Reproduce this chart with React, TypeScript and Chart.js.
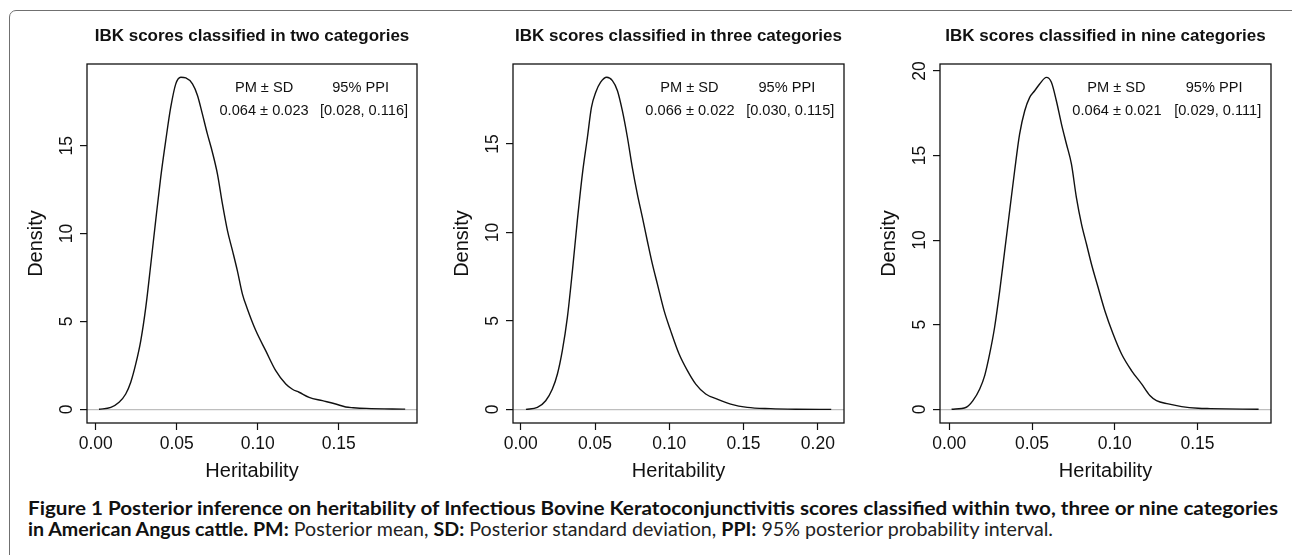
import React, { useEffect, useLayoutEffect, useRef } from "react";
import { Chart, registerables } from "chart.js";

Chart.register(...registerables);
Chart.defaults.font.family = '"Liberation Sans", Arial, Helvetica, sans-serif';
Chart.defaults.color = "#111";

// ---------- data ----------
const titles = [
  "IBK scores classified in two categories",
  "IBK scores classified in three categories",
  "IBK scores classified in nine categories",
];

// Panel 1: two categories
const herit2 = [0.002, 0.0093, 0.0144, 0.0185, 0.0216, 0.0247, 0.0278, 0.0309, 0.034, 0.037, 0.0401, 0.0432, 0.0463, 0.0494, 0.0525, 0.0556, 0.0597, 0.0628, 0.0658, 0.0689, 0.072, 0.0751, 0.0782, 0.0813, 0.0844, 0.0874, 0.0905, 0.0936, 0.0988, 0.1049, 0.1111, 0.1173, 0.1214, 0.1255, 0.1317, 0.1399, 0.1481, 0.1543, 0.159, 0.167, 0.191];
const dens2 = [0, 0.11, 0.4, 0.87, 1.54, 2.58, 3.91, 5.81, 8.27, 10.74, 13.2, 15.29, 17.19, 18.52, 18.9, 18.86, 18.52, 17.86, 16.81, 15.67, 14.63, 13.4, 11.69, 10.17, 9.03, 7.89, 6.57, 5.71, 4.48, 3.34, 2.2, 1.44, 1.14, 0.97, 0.68, 0.49, 0.3, 0.13, 0.09, 0.05, 0.01];

// Panel 2: three categories
const herit3 = [0.0035, 0.0112, 0.0168, 0.0213, 0.0247, 0.028, 0.0314, 0.0348, 0.0381, 0.0415, 0.0449, 0.0476, 0.0505, 0.0538, 0.0579, 0.0617, 0.0651, 0.0684, 0.0718, 0.0751, 0.0785, 0.0819, 0.0852, 0.0886, 0.092, 0.0965, 0.1009, 0.1066, 0.1122, 0.1178, 0.1245, 0.1323, 0.1413, 0.1525, 0.1682, 0.1854, 0.209];
const dens3 = [0, 0.11, 0.49, 1.15, 2.0, 3.32, 5.2, 7.84, 10.67, 13.3, 15.38, 17.07, 17.92, 18.49, 18.77, 18.58, 18.01, 16.88, 15.38, 13.68, 12.17, 10.85, 9.53, 8.22, 7.08, 5.58, 4.45, 3.13, 2.19, 1.43, 0.87, 0.58, 0.3, 0.11, 0.04, 0.01, 0];

// Panel 3: nine categories
const herit9 = [0.0014, 0.0103, 0.0143, 0.0184, 0.0214, 0.0244, 0.0274, 0.0305, 0.0335, 0.0365, 0.0395, 0.0425, 0.0456, 0.0486, 0.0516, 0.0546, 0.0587, 0.0617, 0.0647, 0.0678, 0.0708, 0.0738, 0.0768, 0.0799, 0.0829, 0.0859, 0.0899, 0.094, 0.099, 0.1041, 0.1101, 0.1162, 0.1212, 0.1252, 0.1323, 0.1404, 0.1504, 0.1577, 0.1869];
const dens9 = [0, 0.12, 0.51, 1.2, 1.99, 3.27, 4.85, 7.01, 9.38, 11.74, 14.1, 16.27, 17.65, 18.44, 18.83, 19.23, 19.62, 19.33, 18.24, 16.86, 15.68, 14.5, 12.53, 10.95, 9.77, 8.59, 7.21, 5.83, 4.45, 3.27, 2.29, 1.5, 0.81, 0.51, 0.32, 0.16, 0.06, 0.04, 0];

// tick labels
const xTicks2 = [0, 0.05, 0.1, 0.15];
const xTicks3 = [0, 0.05, 0.1, 0.15, 0.2];
const xTicks9 = [0, 0.05, 0.1, 0.15];
const yTicks2 = [0, 5, 10, 15];
const yTicks3 = [0, 5, 10, 15];
const yTicks9 = [0, 5, 10, 15, 20];

// summary statistics text
const pmHeader = "PM ± SD";
const ppiHeader = "95% PPI";
const pmValues = ["0.064 ± 0.023", "0.066 ± 0.022", "0.064 ± 0.021"];
const ppiValues = ["[0.028, 0.116]", "[0.030, 0.115]", "[0.029, 0.111]"];

const xLabel = "Heritability";
const yLabel = "Density";

// ---------- layout (positions, not data) ----------
const panels = [
  { x: herit2, y: dens2, xt: xTicks2, yt: yTicks2, xr: [-0.0054, 0.1983], yr: [-0.78, 19.65], plotLeft: 87, plotRight: 417,
    ann: [[0.1039, 18.29], [0.1039, 16.99], [0.1635, 18.29], [0.1656, 16.99]] },
  { x: herit3, y: dens3, xt: xTicks3, yt: yTicks3, xr: [-0.0052, 0.2176], yr: [-0.77, 19.52], plotLeft: 513, plotRight: 844,
    ann: [[0.1135, 18.16], [0.1139, 16.86], [0.1791, 18.16], [0.1814, 16.86]] },
  { x: herit9, y: dens9, xt: xTicks9, yt: yTicks9, xr: [-0.0056, 0.1944], yr: [-0.81, 20.41], plotLeft: 940, plotRight: 1271,
    ann: [[0.101, 18.99], [0.1013, 17.63], [0.16, 18.99], [0.1622, 17.63]] },
];

const Y_AXIS_W = 75;
const RIGHT_PAD = 10;
const CANVAS_H = 490;

const boxAndTextPlugin = {
  id: "boxText",
  afterDatasetsDraw(chart: any, _args: any, opts: any) {
    const { ctx, chartArea, scales } = chart;
    ctx.save();
    ctx.strokeStyle = "#111";
    ctx.lineWidth = 1.3;
    ctx.strokeRect(chartArea.left, chartArea.top, chartArea.right - chartArea.left, chartArea.bottom - chartArea.top);
    ctx.font = '14.6px "Liberation Sans", Arial, sans-serif';
    ctx.fillStyle = "#111";
    ctx.textAlign = "center";
    ctx.textBaseline = "middle";
    for (const it of opts.items || []) {
      ctx.fillText(it.text, scales.x.getPixelForValue(it.x), scales.y.getPixelForValue(it.y));
    }
    ctx.restore();
  },
};

function Panel({ idx }: { idx: number }) {
  const ref = useRef<HTMLCanvasElement>(null);
  const p = panels[idx];
  const canvasLeft = p.plotLeft - Y_AXIS_W;
  const canvasW = p.plotRight - p.plotLeft + Y_AXIS_W + RIGHT_PAD;

  useEffect(() => {
    const texts = [pmHeader, pmValues[idx], ppiHeader, ppiValues[idx]];
    const items = p.ann.map((a, i) => ({ x: a[0], y: a[1], text: texts[i] }));
    const chart = new Chart(ref.current as HTMLCanvasElement, {
      type: "line",
      data: {
        datasets: [
          {
            data: p.x.map((v, i) => ({ x: v, y: p.y[i] })),
            borderColor: "#111",
            borderWidth: 1.4,
            pointRadius: 0,
            fill: false,
            cubicInterpolationMode: "monotone",
          },
        ],
      },
      plugins: [boxAndTextPlugin],
      options: {
        animation: false,
        responsive: false,
        devicePixelRatio: 1,
        layout: { padding: { left: 0, right: RIGHT_PAD, top: 0, bottom: 0 } },
        plugins: {
          legend: { display: false },
          tooltip: { enabled: false },
          title: {
            display: true,
            text: titles[idx],
            fullSize: false,
            color: "#111",
            font: { size: 17, weight: "bold" },
            padding: { top: 26, bottom: 17.6 },
          },
          boxText: { items },
        } as any,
        scales: {
          x: {
            type: "linear",
            min: p.xr[0],
            max: p.xr[1],
            afterBuildTicks: (s: any) => {
              s.ticks = p.xt.map((v) => ({ value: v }));
            },
            afterFit: (s: any) => {
              s.height = CANVAS_H - 423;
              s.paddingLeft = 0;
              s.paddingRight = 0;
            },
            border: { display: false },
            grid: { drawOnChartArea: false, drawTicks: true, tickLength: 7, tickColor: "#111", tickWidth: 1.2 },
            ticks: {
              autoSkip: false,
              maxRotation: 0,
              minRotation: 0,
              padding: 3.5,
              color: "#111",
              font: { size: 17.5 },
              callback: (v: any) => Number(v).toFixed(2),
            },
            title: { display: true, text: xLabel, color: "#111", font: { size: 20 }, padding: { top: 0, bottom: 7 } },
          },
          y: {
            type: "linear",
            min: p.yr[0],
            max: p.yr[1],
            afterBuildTicks: (s: any) => {
              s.ticks = p.yt.map((v) => ({ value: v }));
            },
            afterFit: (s: any) => {
              s.width = Y_AXIS_W;
              s.paddingTop = 0;
              s.paddingBottom = 0;
            },
            border: { display: false },
            grid: {
              drawOnChartArea: true,
              drawTicks: true,
              tickLength: 7,
              tickColor: "#111",
              tickWidth: 1.2,
              lineWidth: 1.2,
              color: (c: any) => (c.tick && c.tick.value === 0 ? "#bebebe" : "rgba(0,0,0,0)"),
            },
            ticks: {
              autoSkip: false,
              minRotation: 90,
              maxRotation: 90,
              crossAlign: "center",
              padding: 3,
              color: "#111",
              font: { size: 17.5 },
              callback: (v: any) => String(v),
            },
            title: { display: true, text: yLabel, color: "#111", font: { size: 20 }, padding: { top: 12, bottom: 0 } },
          },
        },
      } as any,
    });
    return () => chart.destroy();
  }, [idx]);

  return (
    <canvas
      ref={ref}
      width={canvasW}
      height={CANVAS_H}
      style={{ position: "absolute", left: canvasLeft, top: 0, width: canvasW, height: CANVAS_H }}
    />
  );
}

const captionLine1 =
  "Figure 1 Posterior inference on heritability of Infectious Bovine Keratoconjunctivitis scores classified within two, three or nine categories";

export default function App() {
  const l1 = useRef<HTMLDivElement>(null);
  const l2 = useRef<HTMLDivElement>(null);

  useLayoutEffect(() => {
    const fit = () => {
      if (!l1.current || !l2.current) return;
      l1.current.style.transform = "none";
      l2.current.style.transform = "none";
      const w1 = l1.current.getBoundingClientRect().width;
      const w2 = l2.current.getBoundingClientRect().width;
      l1.current.style.transform = `scaleX(${1250 / w1})`;
      l2.current.style.transform = `scaleX(${1025 / w2})`;
    };
    fit();
    (document as any).fonts?.ready?.then(fit);
  }, []);

  const bold: React.CSSProperties = { fontWeight: 700, color: "#111" };
  const light: React.CSSProperties = { fontWeight: 400, color: "#222" };

  return (
    <div style={{ position: "fixed", left: 0, top: 0, width: 1292, height: 555, overflow: "hidden", background: "#fff" }}>
      <div
        style={{
          position: "absolute",
          left: 9,
          top: 10,
          width: 1330,
          height: 620,
          border: "1.5px solid #707070",
          borderRadius: 7,
          boxSizing: "border-box",
        }}
      />
      {[0, 1, 2].map((i) => (
        <Panel key={i} idx={i} />
      ))}
      <div
        style={{
          position: "absolute",
          left: 28,
          top: 498,
          fontFamily: "Lato, 'Open Sans', sans-serif",
          fontSize: 18.5,
          lineHeight: "21px",
          color: "#111",
          whiteSpace: "nowrap",
        }}
      >
        <div ref={l1} style={{ display: "inline-block", transformOrigin: "0 0", ...bold }}>
          {captionLine1}
        </div>
        <br />
        <div ref={l2} style={{ display: "inline-block", transformOrigin: "0 0" }}>
          <span style={bold}>in American Angus cattle. PM:</span> <span style={light}>Posterior mean,</span>{" "}
          <span style={bold}>SD:</span> <span style={light}>Posterior standard deviation,</span>{" "}
          <span style={bold}>PPI:</span> <span style={light}>95% posterior probability interval.</span>
        </div>
      </div>
    </div>
  );
}
